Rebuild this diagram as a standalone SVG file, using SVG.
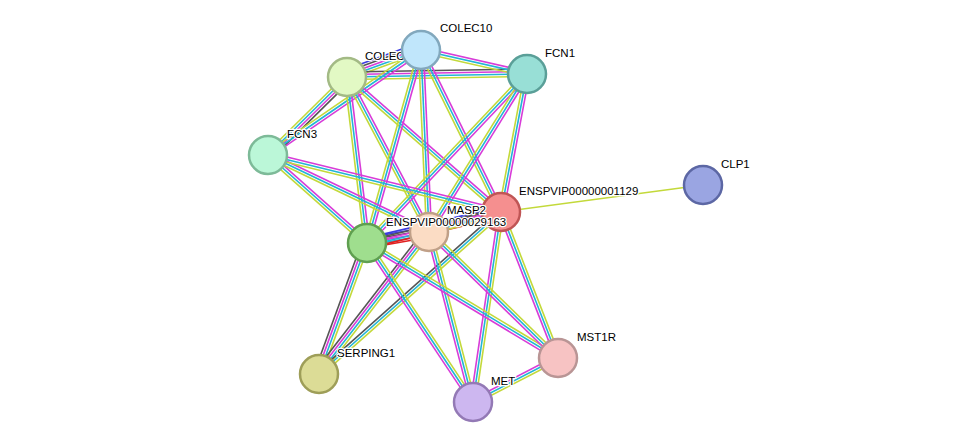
<svg xmlns="http://www.w3.org/2000/svg" xmlns:xlink="http://www.w3.org/1999/xlink" width="976" height="448" viewBox="0 0 976 448">
<style>
.m{stroke:#d83cd8}.c{stroke:#22b5d6}.y{stroke:#c3d93a}.k{stroke:#555}.b{stroke:#3c3ce0}.r{stroke:#e02020}
#edges use{stroke-width:1.6;fill:none}
.n{stroke-width:2.5}
text{font-family:"Liberation Sans",Arial,sans-serif;font-size:11.5px;fill:#000;stroke:#fff;stroke-width:2.5;paint-order:stroke;stroke-linejoin:round}
</style>
<defs>
<line id="AB" x1="347" y1="77" x2="421" y2="50"/>
<line id="AC" x1="347" y1="77" x2="527" y2="74"/>
<line id="BC" x1="421" y1="50" x2="527" y2="74"/>
<line id="AD" x1="347" y1="77" x2="268" y2="155"/>
<line id="BD" x1="421" y1="50" x2="268" y2="155"/>
<line id="AH" x1="347" y1="77" x2="367" y2="243"/>
<line id="AG" x1="347" y1="77" x2="429" y2="232"/>
<line id="AF" x1="347" y1="77" x2="501" y2="212"/>
<line id="BH" x1="421" y1="50" x2="367" y2="243"/>
<line id="BG" x1="421" y1="50" x2="429" y2="232"/>
<line id="BF" x1="421" y1="50" x2="501" y2="212"/>
<line id="CH" x1="527" y1="74" x2="367" y2="243"/>
<line id="CG" x1="527" y1="74" x2="429" y2="232"/>
<line id="CF" x1="527" y1="74" x2="501" y2="212"/>
<line id="DH" x1="268" y1="155" x2="367" y2="243"/>
<line id="DG" x1="268" y1="155" x2="429" y2="232"/>
<line id="DF" x1="268" y1="155" x2="501" y2="212"/>
<line id="HG" x1="367" y1="243" x2="429" y2="232"/>
<line id="HF" x1="367" y1="243" x2="501" y2="212"/>
<line id="GF" x1="429" y1="232" x2="501" y2="212"/>
<line id="FE" x1="501" y1="212" x2="703" y2="185"/>
<line id="IH" x1="319" y1="374" x2="367" y2="243"/>
<line id="IG" x1="319" y1="374" x2="429" y2="232"/>
<line id="IF" x1="319" y1="374" x2="501" y2="212"/>
<line id="KH" x1="473" y1="402" x2="367" y2="243"/>
<line id="KG" x1="473" y1="402" x2="429" y2="232"/>
<line id="KF" x1="473" y1="402" x2="501" y2="212"/>
<line id="JH" x1="558" y1="358" x2="367" y2="243"/>
<line id="JG" x1="558" y1="358" x2="429" y2="232"/>
<line id="JF" x1="558" y1="358" x2="501" y2="212"/>
<line id="KJ" x1="473" y1="402" x2="558" y2="358"/>
</defs>
<g id="edges">
<use href="#AB" class="b" transform="translate(-2.58,-7.05)"/><use href="#AB" class="k" transform="translate(-1.72,-4.7)"/><use href="#AB" class="m" transform="translate(-0.86,-2.35)"/><use href="#AB" class="c"/><use href="#AB" class="y" transform="translate(0.86,2.35)"/>
<use href="#AC" class="k" transform="translate(0,-5)"/><use href="#AC" class="m" transform="translate(0,-2.5)"/><use href="#AC" class="c"/><use href="#AC" class="y" transform="translate(0,2.5)"/>
<use href="#BC" class="m" transform="translate(0.55,-2.44)"/><use href="#BC" class="c"/><use href="#BC" class="y" transform="translate(-0.55,2.44)"/>
<use href="#AD" class="k" transform="translate(3.52,3.56)"/><use href="#AD" class="m" transform="translate(1.76,1.78)"/><use href="#AD" class="c"/><use href="#AD" class="y" transform="translate(-1.76,-1.78)"/>
<use href="#BD" class="m" transform="translate(1.41,2.06)"/><use href="#BD" class="c"/><use href="#BD" class="y" transform="translate(-1.41,-2.06)"/>
<use href="#AH" class="m" transform="translate(2.48,-0.3)"/><use href="#AH" class="c"/><use href="#AH" class="y" transform="translate(-2.48,0.3)"/>
<use href="#AG" class="m" transform="translate(2.21,-1.17)"/><use href="#AG" class="c"/><use href="#AG" class="y" transform="translate(-2.21,1.17)"/>
<use href="#AF" class="m" transform="translate(1.65,-1.88)"/><use href="#AF" class="c"/><use href="#AF" class="y" transform="translate(-1.65,1.88)"/>
<use href="#BH" class="m" transform="translate(2.41,0.67)"/><use href="#BH" class="c"/><use href="#BH" class="y" transform="translate(-2.41,-0.67)"/>
<use href="#BG" class="m" transform="translate(2.5,-0.11)"/><use href="#BG" class="c"/><use href="#BG" class="y" transform="translate(-2.5,0.11)"/>
<use href="#BF" class="m" transform="translate(2.24,-1.11)"/><use href="#BF" class="c"/><use href="#BF" class="y" transform="translate(-2.24,1.11)"/>
<use href="#CH" class="m" transform="translate(1.82,1.72)"/><use href="#CH" class="c"/><use href="#CH" class="y" transform="translate(-1.82,-1.72)"/>
<use href="#CG" class="m" transform="translate(2.12,1.32)"/><use href="#CG" class="c"/><use href="#CG" class="y" transform="translate(-2.12,-1.32)"/>
<use href="#CF" class="m" transform="translate(2.46,0.46)"/><use href="#CF" class="c"/><use href="#CF" class="y" transform="translate(-2.46,-0.46)"/>
<use href="#DH" class="m" transform="translate(1.66,-1.87)"/><use href="#DH" class="c"/><use href="#DH" class="y" transform="translate(-1.66,1.87)"/>
<use href="#DG" class="m" transform="translate(1.08,-2.25)"/><use href="#DG" class="c"/><use href="#DG" class="y" transform="translate(-1.08,2.25)"/>
<use href="#DF" class="m" transform="translate(0.59,-2.43)"/><use href="#DF" class="c"/><use href="#DF" class="y" transform="translate(-0.59,2.43)"/>
<use href="#HG" class="b" transform="translate(-0.88,-4.92)"/><use href="#HG" class="k" transform="translate(-0.44,-2.46)"/><use href="#HG" class="m"/><use href="#HG" class="c" transform="translate(0.44,2.46)"/><use href="#HG" class="r" transform="translate(0.88,4.92)"/>
<use href="#HF" class="b" transform="translate(-1.12,-4.88)"/><use href="#HF" class="k" transform="translate(-0.56,-2.44)"/><use href="#HF" class="m"/><use href="#HF" class="c" transform="translate(0.56,2.44)"/><use href="#HF" class="r" transform="translate(1.12,4.88)"/>
<use href="#GF" class="k" transform="translate(-1.34,-4.82)"/><use href="#GF" class="m" transform="translate(-0.67,-2.41)"/><use href="#GF" class="c"/><use href="#GF" class="y" transform="translate(0.67,2.41)"/>
<use href="#FE" class="y"/>
<use href="#IH" class="k" transform="translate(-4.7,-1.72)"/><use href="#IH" class="m" transform="translate(-2.35,-0.86)"/><use href="#IH" class="c"/><use href="#IH" class="y" transform="translate(2.35,0.86)"/>
<use href="#IG" class="k" transform="translate(-3.96,-3.06)"/><use href="#IG" class="m" transform="translate(-1.98,-1.53)"/><use href="#IG" class="c"/><use href="#IG" class="y" transform="translate(1.98,1.53)"/>
<use href="#IF" class="k" transform="translate(-1.66,-1.87)"/><use href="#IF" class="c"/><use href="#IF" class="y" transform="translate(1.66,1.87)"/>
<use href="#KH" class="m" transform="translate(-2.08,1.39)"/><use href="#KH" class="c"/><use href="#KH" class="y" transform="translate(2.08,-1.39)"/>
<use href="#KG" class="m" transform="translate(-2.42,0.63)"/><use href="#KG" class="c"/><use href="#KG" class="y" transform="translate(2.42,-0.63)"/>
<use href="#KF" class="m" transform="translate(-2.47,-0.36)"/><use href="#KF" class="c"/><use href="#KF" class="y" transform="translate(2.47,0.36)"/>
<use href="#JH" class="m" transform="translate(-1.29,2.14)"/><use href="#JH" class="c"/><use href="#JH" class="y" transform="translate(1.29,-2.14)"/>
<use href="#JG" class="m" transform="translate(-1.75,1.79)"/><use href="#JG" class="c"/><use href="#JG" class="y" transform="translate(1.75,-1.79)"/>
<use href="#JF" class="m" transform="translate(-2.33,0.91)"/><use href="#JF" class="c"/><use href="#JF" class="y" transform="translate(2.33,-0.91)"/>
<use href="#KJ" class="m" transform="translate(-1.15,-2.22)"/><use href="#KJ" class="c"/><use href="#KJ" class="y" transform="translate(1.15,2.22)"/>
</g>
<g id="COLEC11"><circle class="n" cx="347" cy="77" r="19" fill="#e2f9c4" stroke="#a3ba85"/><text x="365" y="60">COLEC11</text></g>
<g id="COLEC10"><circle class="n" cx="421" cy="50" r="19" fill="#c0e6fb" stroke="#82a8bd"/><text x="440" y="32">COLEC10</text></g>
<g id="FCN1"><circle class="n" cx="527" cy="74" r="19" fill="#98dfd6" stroke="#5a9f98"/><text x="545" y="57">FCN1</text></g>
<g id="FCN3"><circle class="n" cx="268" cy="155" r="19" fill="#bbf7d8" stroke="#7dba98"/><text x="287" y="138">FCN3</text></g>
<g id="CLP1"><circle class="n" cx="703" cy="185" r="19" fill="#9aa5e2" stroke="#5c67a4"/><text x="721" y="168">CLP1</text></g>
<g id="ENSPVIP00000001129"><circle class="n" cx="501" cy="212" r="19" fill="#f58f8f" stroke="#c05555"/><text x="519" y="195">ENSPVIP00000001129</text></g>
<g id="MASP2"><circle class="n" cx="429" cy="232" r="19" fill="#fbdcc4" stroke="#c0a088"/><text x="447" y="214">MASP2</text></g>
<g id="ENSPVIP00000029163"><circle class="n" cx="367" cy="243" r="19" fill="#9fde8e" stroke="#5f9f50"/><text x="386" y="226">ENSPVIP00000029163</text></g>
<g id="SERPING1"><circle class="n" cx="319" cy="374" r="19" fill="#dcdc96" stroke="#9e9e58"/><text x="337" y="357">SERPING1</text></g>
<g id="MST1R"><circle class="n" cx="558" cy="358" r="19" fill="#f7c3c3" stroke="#b99595"/><text x="577" y="341">MST1R</text></g>
<g id="MET"><circle class="n" cx="473" cy="402" r="19" fill="#cdb7f0" stroke="#9379b5"/><text x="491" y="385">MET</text></g>
</svg>
